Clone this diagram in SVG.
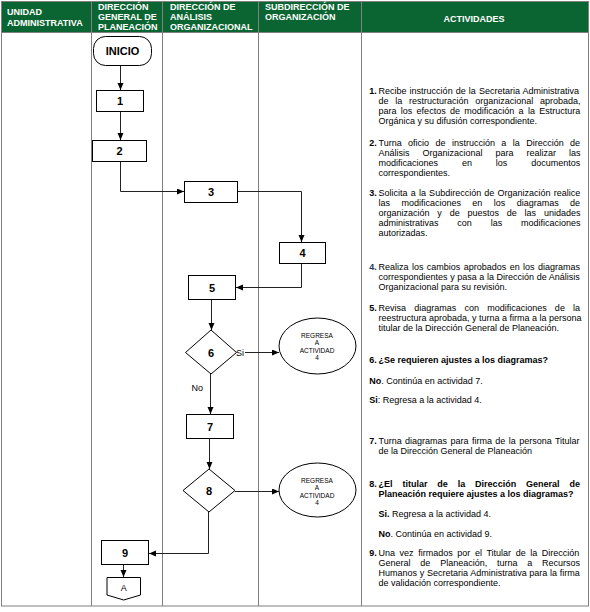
<svg xmlns="http://www.w3.org/2000/svg" width="590" height="612" viewBox="0 0 590 612">
<style>
.grid{stroke:#808080;stroke-width:1;fill:none}
.hd{font-family:"Liberation Sans",Arial,sans-serif;font-size:9px;font-weight:bold;fill:#fff}
.t{font-family:"Liberation Sans",Arial,sans-serif;font-size:9px;fill:#000}
.b{font-weight:bold}
.box{fill:#fff;stroke:#000;stroke-width:1}
.num{font-family:"Liberation Sans",Arial,sans-serif;font-size:11px;font-weight:bold;fill:#000;text-anchor:middle}
.sm{font-family:"Liberation Sans",Arial,sans-serif;font-size:6.5px;fill:#000;text-anchor:middle}
.con{fill:none;stroke:#222;stroke-width:1}
</style>
<defs>
<marker id="ah" markerUnits="userSpaceOnUse" markerWidth="8" markerHeight="7" refX="7" refY="3" orient="auto">
<path d="M0,0 L7,3 L0,6 z" fill="#000"/>
</marker>
</defs>
<rect x="0" y="0" width="590" height="612" fill="#fff"/>
<g id="table">
<rect x="1.5" y="1.5" width="587" height="31" fill="#0b6532"/>
<rect class="grid" x="1.5" y="1.5" width="587" height="604.5"/>
<line class="grid" x1="1.5" y1="32.5" x2="588.5" y2="32.5"/>
<line class="grid" x1="91.5" y1="1.5" x2="91.5" y2="606"/>
<line class="grid" x1="162.5" y1="1.5" x2="162.5" y2="606"/>
<line class="grid" x1="258.5" y1="1.5" x2="258.5" y2="606"/>
<line class="grid" x1="361.5" y1="1.5" x2="361.5" y2="606"/>
<text class="hd" x="7" y="15">UNIDAD</text>
<text class="hd" x="7" y="26">ADMINISTRATIVA</text>
<text class="hd" x="98" y="10">DIRECCIÓN</text>
<text class="hd" x="98" y="20">GENERAL DE</text>
<text class="hd" x="98" y="30">PLANEACIÓN</text>
<text class="hd" x="170" y="10">DIRECCIÓN DE</text>
<text class="hd" x="170" y="20">ANÁLISIS</text>
<text class="hd" x="170" y="30">ORGANIZACIONAL</text>
<text class="hd" x="265" y="10">SUBDIRECCIÓN DE</text>
<text class="hd" x="265" y="20">ORGANIZACIÓN</text>
<text class="hd" x="474" y="22" text-anchor="middle">ACTIVIDADES</text>
</g>
<g id="connectors">
<line class="con" x1="120.5" y1="66" x2="120.5" y2="90" marker-end="url(#ah)"/>
<line class="con" x1="120.5" y1="112" x2="120.5" y2="140" marker-end="url(#ah)"/>
<polyline class="con" points="120.5,162 120.5,191.5 184,191.5" marker-end="url(#ah)"/>
<polyline class="con" points="238,191.5 301.5,191.5 301.5,242" marker-end="url(#ah)"/>
<polyline class="con" points="301.5,264 301.5,287.5 236,287.5" marker-end="url(#ah)"/>
<line class="con" x1="211.5" y1="300" x2="211.5" y2="330" marker-end="url(#ah)"/>
<line class="con" x1="245" y1="352.5" x2="279" y2="352.5" marker-end="url(#ah)"/>
<line class="con" x1="210.5" y1="374" x2="210.5" y2="414" marker-end="url(#ah)"/>
<line class="con" x1="209.5" y1="439" x2="209.5" y2="469" marker-end="url(#ah)"/>
<line class="con" x1="235" y1="491.5" x2="279" y2="491.5" marker-end="url(#ah)"/>
<polyline class="con" points="208.5,512 208.5,553.5 149,553.5" marker-end="url(#ah)"/>
<line class="con" x1="123.5" y1="565" x2="123.5" y2="577" marker-end="url(#ah)"/>
<text class="t" x="236" y="355.5">Si</text>
<text class="t" x="191.5" y="390.5">No</text>
</g>
<g id="inicio">
<rect class="box" x="93.5" y="36.5" width="58" height="29" rx="12"/>
<text class="num" x="122.5" y="55">INICIO</text>
</g>
<g id="n1"><rect class="box" x="96.5" y="90.5" width="47" height="21"/><text class="num" x="120" y="105">1</text></g>
<g id="n2"><rect class="box" x="92.5" y="140.5" width="54" height="21"/><text class="num" x="119.5" y="155">2</text></g>
<g id="n3"><rect class="box" x="184.5" y="181.5" width="53" height="21"/><text class="num" x="211" y="196">3</text></g>
<g id="n4"><rect class="box" x="279.5" y="242.5" width="46" height="21"/><text class="num" x="302.5" y="257">4</text></g>
<g id="n5"><rect class="box" x="188.5" y="275.5" width="47" height="24"/><text class="num" x="212" y="291.5">5</text></g>
<g id="n6"><polygon class="box" points="211,330 236.5,352.5 211,374 185.5,352.5"/><text class="num" x="211" y="356.5">6</text></g>
<g id="r6"><ellipse class="box" cx="317.5" cy="346" rx="38.5" ry="28"/>
<text class="sm" x="317" y="337.5">REGRESA</text><text class="sm" x="317" y="345.2">A</text><text class="sm" x="317" y="352.6">ACTIVIDAD</text><text class="sm" x="317" y="360.2">4</text></g>
<g id="n7"><rect class="box" x="186.5" y="414.5" width="47" height="24"/><text class="num" x="210" y="430.5">7</text></g>
<g id="n8"><polygon class="box" points="209,469 235,490.5 209,512 183,490.5"/><text class="num" x="209" y="494.5">8</text></g>
<g id="r8"><ellipse class="box" cx="317.5" cy="490" rx="38.5" ry="27"/>
<text class="sm" x="317" y="482.5">REGRESA</text><text class="sm" x="317" y="490.2">A</text><text class="sm" x="317" y="497.8">ACTIVIDAD</text><text class="sm" x="317" y="505.3">4</text></g>
<g id="n9"><rect class="box" x="101.5" y="540.5" width="47" height="24"/><text class="num" x="125" y="556.5">9</text></g>
<g id="connA"><polygon class="box" points="107,577.5 140.5,577.5 140.5,595 123.7,600 107,595"/><text class="t" x="123.7" y="591" text-anchor="middle">A</text></g>
<g id="activities">
<text class="t b" x="369.3" y="93.8">1.</text>
<text class="t" x="378.5" y="93.8" style="word-spacing:0.6px">Recibe instrucción de la Secretaria Administrativa</text>
<text class="t" x="378.5" y="104" style="word-spacing:4.2px">de la restructuración organizacional aprobada,</text>
<text class="t" x="378.5" y="114.2" style="word-spacing:1.8px">para los efectos de modificación a la Estructura</text>
<text class="t" x="378.5" y="124.4">Orgánica y su difusión correspondiente.</text>

<text class="t b" x="369.3" y="146">2.</text>
<text class="t" x="378.5" y="146" style="word-spacing:3.9px">Turna oficio de instrucción a la Dirección de</text>
<text class="t" x="378.5" y="156.1" style="word-spacing:10.5px">Análisis Organizacional para realizar las</text>
<text class="t" x="378.5" y="166.2" style="word-spacing:21.4px">modificaciones en los documentos</text>
<text class="t" x="378.5" y="176.3">correspondientes.</text>

<text class="t b" x="369.3" y="196">3.</text>
<text class="t" x="378.5" y="196" style="word-spacing:0.7px">Solicita a la Subdirección de Organización realice</text>
<text class="t" x="378.5" y="206.1" style="word-spacing:8.9px">las modificaciones en los diagramas de</text>
<text class="t" x="378.5" y="216.2" style="word-spacing:5.3px">organización y de puestos de las unidades</text>
<text class="t" x="378.5" y="226.3" style="word-spacing:16.3px">administrativas con las modificaciones</text>
<text class="t" x="378.5" y="236.4">autorizadas.</text>

<text class="t b" x="369.3" y="269.8" fill="#203864" style="fill:#203864">4.</text>
<text class="t" x="378.5" y="269.8" style="word-spacing:0.9px">Realiza los cambios aprobados en los diagramas</text>
<text class="t" x="378.5" y="279.9" style="word-spacing:0.1px">correspondientes y pasa a la Dirección de Análisis</text>
<text class="t" x="378.5" y="290">Organizacional para su revisión.</text>

<text class="t b" x="369.3" y="310.5">5.</text>
<text class="t" x="378.5" y="310.5" style="word-spacing:5.7px">Revisa diagramas con modificaciones de la</text>
<text class="t" x="378.5" y="320.6">reestructura aprobada, y turna a firma a la persona</text>
<text class="t" x="378.5" y="330.7">titular de la Dirección General de Planeación.</text>

<text class="t b" x="369.3" y="363">6.</text>
<text class="t b" x="378.5" y="363">¿Se requieren ajustes a los diagramas?</text>
<text class="t" x="369.3" y="384"><tspan class="b">No</tspan>. Continúa en actividad 7.</text>
<text class="t" x="369.3" y="403"><tspan class="b">Si</tspan>: Regresa a la actividad 4.</text>

<text class="t b" x="369.3" y="443.5">7.</text>
<text class="t" x="378.5" y="443.5" style="word-spacing:0.9px">Turna diagramas para firma de la persona Titular</text>
<text class="t" x="378.5" y="453.6">de la Dirección General de Planeación</text>

<text class="t b" x="369.3" y="487">8.</text>
<text class="t b" x="378.5" y="487" style="word-spacing:7.4px">¿El titular de la Dirección General de</text>
<text class="t b" x="378.5" y="497.1">Planeación requiere ajustes a los diagramas?</text>
<text class="t" x="378.5" y="517"><tspan class="b">Si.</tspan> Regresa a la actividad 4.</text>
<text class="t" x="378.5" y="536.5"><tspan class="b">No</tspan>. Continúa en actividad 9.</text>

<text class="t b" x="369.3" y="555.5">9.</text>
<text class="t" x="378.5" y="555.5" style="word-spacing:2.1px">Una vez firmados por el Titular de la Dirección</text>
<text class="t" x="378.5" y="565.6" style="word-spacing:7.3px">General de Planeación, turna a Recursos</text>
<text class="t" x="378.5" y="575.7" style="word-spacing:0.2px">Humanos y Secretaria Administrativa para la firma</text>
<text class="t" x="378.5" y="585.8">de validación correspondiente.</text>
</g>
</svg>
